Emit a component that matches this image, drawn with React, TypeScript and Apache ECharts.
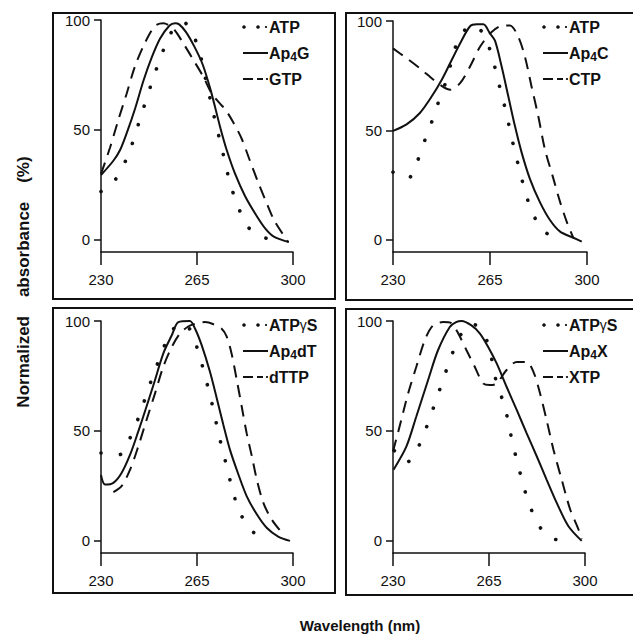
import React, { useEffect, useRef } from "react";
import * as echarts from "echarts";

// ---------- data ----------
const X_TICKS = [230, 265, 300];
const Y_TICKS = [0, 50, 100];
const X_TITLE = "Wavelength (nm)";
const Y_TITLE = "Normalized    absorbance    (%)";

// Panel A (top left)
const A_NAMES = ["ATP", "Ap4G", "GTP"];
const A_ATP_X = [230, 235, 240, 245, 250, 255, 258, 260, 263, 266, 268, 270, 272, 274, 276, 278, 280, 283, 286, 292];
const A_ATP_Y = [22, 27, 39, 58, 77, 93, 98, 99, 95, 85, 74, 63, 52, 42, 31, 22, 15, 7, 3, 0];
const A_AP4_X = [230, 234.5, 237, 239.5, 242.5, 245.5, 248.5, 251.5, 255, 257, 258.5, 261, 264, 267, 270, 273.4, 275.8, 278.9, 282.5, 286.7, 290, 293, 298.5];
const A_AP4_Y = [29.5, 36, 41, 49, 60, 72.5, 83, 91.5, 97.5, 98.5, 98, 94.5, 88, 80, 68, 51.5, 41, 30, 20, 11, 5, 1.5, -1];
const A_NTP_X = [230, 233.3, 236.3, 239.4, 242.4, 246, 249.7, 252.7, 256.4, 260, 263.7, 267.3, 270.3, 273, 275.5, 278.2, 281.3, 284.3, 287.4, 290.4, 293.4, 298.3];
const A_NTP_Y = [30, 42, 54.5, 66.7, 79, 89.5, 97.3, 98.5, 96, 89.4, 81.8, 74.2, 66.7, 62.5, 59, 53.5, 46, 36, 25.8, 16.7, 8.3, -1];

// Panel B (top right)
const B_NAMES = ["ATP", "Ap4C", "CTP"];
const B_ATP_X = [230, 235.3, 238.8, 241.5, 244, 246.4, 249, 251, 253, 256, 259, 262.5, 265.6, 267.4, 269.2, 271, 272.6, 274.3, 276.1, 278, 280.6, 284.6, 291];
const B_ATP_Y = [31, 28, 36, 45.6, 54, 63, 72, 81, 89.7, 96, 98, 94.3, 84.5, 75.4, 66.4, 57.3, 47.8, 38.8, 29.7, 20.7, 11.6, 3.8, 0];
const B_AP4_X = [230, 234.9, 239.7, 244, 247.6, 250.6, 254.2, 257.8, 260.2, 262.6, 265, 266.8, 269.2, 271.6, 274, 276.4, 279.4, 283, 286.7, 290.3, 295.1, 298.1];
const B_AP4_Y = [49.8, 52.8, 58, 65.6, 73.2, 80.7, 89.7, 97.6, 98.5, 98.5, 94.3, 91, 79.2, 65.6, 52, 40, 27.9, 17.3, 9, 3.8, 1, -0.8];
const B_NTP_X = [230, 234.9, 239.7, 244.6, 248.2, 250.6, 254.2, 257.8, 261.4, 265.6, 269.8, 272.2, 275.2, 277.6, 280, 282.4, 284.8, 287.9, 290.3, 292.7, 295.1];
const B_NTP_Y = [87.5, 83, 78.4, 73.2, 69.8, 68.6, 71.6, 79.2, 88.2, 95, 98, 98, 92.8, 83.7, 70, 56.6, 41.5, 27.9, 17.3, 8.3, 0.8];

// Panel C (bottom left)
const C_NAMES = ["ATPγS", "Ap4dT", "dTTP"];
const C_ATP_X = [230, 236.7, 240.6, 243.6, 246, 248.5, 251.1, 253.9, 256.5, 259.5, 262.5, 265.5, 267.5, 269.4, 271.2, 272.8, 274.6, 276.4, 278.2, 280.7, 284.7, 291];
const C_ATP_Y = [40, 39.2, 46.8, 55.8, 64.4, 73.6, 82.2, 91, 96.5, 99, 96, 86, 77, 67.9, 58.4, 49, 40, 30.9, 21.9, 12.8, 4.8, 0];
const C_AP4_X = [230, 231.5, 234.5, 237.5, 240.6, 243.6, 246.6, 249.7, 252.7, 255.8, 258.2, 262.4, 264.3, 266.7, 269.7, 272.2, 274.6, 277, 280.1, 283.1, 286.8, 290.4, 294.6, 298.9];
const C_AP4_Y = [30, 25.6, 26.4, 30.9, 39.2, 49.8, 61.1, 73.2, 85.2, 93.5, 99.5, 100, 96.5, 89, 77, 64.9, 52.8, 41.5, 30.2, 20.4, 12.1, 6, 2, 0];
const C_NTP_X = [234.5, 237.5, 240.6, 243.6, 246.6, 249.7, 252.7, 255.8, 258.8, 261.8, 265, 268, 271, 274, 275.8, 277.6, 279.5, 281.3, 283.1, 285, 286.8, 289.2, 292.2, 295.9];
const C_NTP_Y = [22.2, 24.9, 32.4, 43, 55, 67.1, 79.2, 88.2, 94.3, 97.5, 99, 99.5, 98.5, 96.5, 93, 85.2, 73.2, 61.1, 49, 38.5, 27.9, 17.3, 9.8, 3.8];

// Panel D (bottom right)
const D_NAMES = ["ATPγS", "Ap4X", "XTP"];
const D_ATP_X = [230.5, 234.9, 239.5, 242.4, 244.9, 247.3, 249.9, 252.5, 255.8, 258.5, 261, 264.7, 266.3, 267.8, 270.6, 272.3, 273.8, 275.7, 277.5, 279.9, 283, 288.5, 295.8];
const D_ATP_Y = [41, 35.7, 43.4, 52.3, 61.1, 69.8, 79.2, 87.9, 96, 98.5, 97.6, 89.7, 80.7, 71.6, 61.8, 52.3, 43.3, 34.2, 25.2, 16.1, 7.1, 1, -0.3];
const D_AP4_X = [230.2, 234.9, 238.5, 242.8, 246.4, 250.7, 253, 255, 258.6, 261.7, 264.7, 267.8, 271.4, 275.1, 278.7, 282.4, 286, 289.7, 293.9, 298.8];
const D_AP4_Y = [32.4, 43, 56.6, 73.2, 86.7, 97.3, 99.5, 100, 98, 94.3, 88.2, 80.7, 70.1, 59.6, 49, 38.5, 27.9, 17.3, 6.8, 0];
const D_NTP_X = [230, 232.4, 235.5, 238.5, 241.6, 244.6, 248.3, 251.3, 253.8, 256.8, 259.8, 262.9, 265.3, 267.8, 271.4, 275.1, 278.7, 281.2, 283.6, 286, 288.5, 291.5, 294.6, 297.6, 298.8];
const D_NTP_Y = [40.7, 52, 67, 79.2, 91.3, 98, 99.5, 99, 94.3, 86.7, 79.2, 71.6, 70.9, 71.6, 77.7, 81.4, 81.4, 76.9, 67.1, 55, 41.5, 27.9, 14.3, 5.3, 0.8];

// ---------- layout / style ----------
const FONT = '"Liberation Sans", Arial, sans-serif';
const INK = "#111";

const PANELS = [
  { names: A_NAMES, curves: [[A_ATP_X, A_ATP_Y], [A_AP4_X, A_AP4_Y], [A_NTP_X, A_NTP_Y]],
    grid: { left: 101, top: 20, width: 192, height: 232 }, box: [53, 13, 282, 286], legend: [243, 27] },
  { names: B_NAMES, curves: [[B_ATP_X, B_ATP_Y], [B_AP4_X, B_AP4_Y], [B_NTP_X, B_NTP_Y]],
    grid: { left: 393, top: 21, width: 194, height: 231 }, box: [346, 13, 300, 287], legend: [543, 27] },
  { names: C_NAMES, curves: [[C_ATP_X, C_ATP_Y], [C_AP4_X, C_AP4_Y], [C_NTP_X, C_NTP_Y]],
    grid: { left: 101, top: 321, width: 192, height: 232 }, box: [53, 308, 282, 285], legend: [243, 325] },
  { names: D_NAMES, curves: [[D_ATP_X, D_ATP_Y], [D_AP4_X, D_AP4_Y], [D_NTP_X, D_NTP_Y]],
    grid: { left: 393, top: 321, width: 192, height: 232 }, box: [346, 309, 300, 286], legend: [543, 325] },
];

const LINE_STYLES: any[] = [
  { type: [0.1, 19.5], width: 3.6, cap: "round" },
  { type: "solid", width: 2, cap: "butt" },
  { type: [12, 8], width: 2, cap: "butt" },
];

function pairs(xs: number[], ys: number[]) {
  return xs.map((x, i) => [x, ys[i]]);
}

function richName(name: string) {
  return name.replace(/^Ap4/, "Ap{s|4}").replace("γ", "{g|γ}");
}

function legendGraphics(p: any) {
  const [lx, ly] = p.legend;
  const out: any[] = [];
  const ls = { stroke: INK, lineWidth: 2 };
  p.names.forEach((name: string, i: number) => {
    const y = ly + i * 26;
    if (i === 0) {
      out.push({ type: "circle", shape: { cx: lx + 1, cy: y, r: 1.8 }, style: { fill: INK } });
      out.push({ type: "circle", shape: { cx: lx + 15, cy: y, r: 1.8 }, style: { fill: INK } });
      out.push({ type: "circle", shape: { cx: lx + 23, cy: y, r: 1.1 }, style: { fill: INK } });
    } else if (i === 1) {
      out.push({ type: "line", shape: { x1: lx, y1: y, x2: lx + 25, y2: y }, style: ls });
    } else {
      out.push({ type: "line", shape: { x1: lx, y1: y, x2: lx + 10, y2: y }, style: ls });
      out.push({ type: "line", shape: { x1: lx + 14, y1: y, x2: lx + 20, y2: y }, style: ls });
      out.push({ type: "circle", shape: { cx: lx + 24, cy: y, r: 1.1 }, style: { fill: INK } });
    }
    out.push({
      type: "text",
      x: lx + 26,
      y,
      style: {
        text: richName(name),
        fontFamily: FONT,
        fontSize: 16,
        fontWeight: "bold",
        fill: INK,
        lineHeight: 20,
        textAlign: "left",
        textVerticalAlign: "middle",
        rich: {
          s: { fontFamily: FONT, fontSize: 12, fontWeight: "bold", fill: INK, verticalAlign: "bottom", lineHeight: 10 },
          g: { fontFamily: FONT, fontSize: 14, fontWeight: "normal", fill: INK, lineHeight: 20 },
        },
      },
    });
  });
  return out;
}

export default function App() {
  const ref = useRef<HTMLDivElement>(null);
  useEffect(() => {
    if (!ref.current) return;
    const chart = echarts.init(ref.current, null, { renderer: "svg" });

    const grids = PANELS.map((p) => ({ ...p.grid, containLabel: false }));
    const xAxes = PANELS.map((_, i) => ({
      gridIndex: i,
      type: "value",
      min: 230,
      max: 300,
      axisLine: { show: true, onZero: false, lineStyle: { color: INK, width: 1.5 } },
      axisTick: { show: true, customValues: X_TICKS, length: 13, lineStyle: { color: INK, width: 1.5 } },
      axisLabel: { customValues: X_TICKS, margin: 20, color: INK, fontSize: 15, fontFamily: FONT },
      splitLine: { show: false },
    }));
    const yAxes = PANELS.map((_, i) => ({
      gridIndex: i,
      type: "value",
      min: -5.5,
      max: 100,
      axisLine: { show: true, onZero: false, lineStyle: { color: INK, width: 1.5 } },
      axisTick: { show: true, customValues: Y_TICKS, length: 7, lineStyle: { color: INK, width: 1.5 } },
      axisLabel: { customValues: Y_TICKS, margin: 11, color: INK, fontSize: 15, fontFamily: FONT },
      splitLine: { show: false },
    }));
    const series: any[] = [];
    PANELS.forEach((p, pi) => {
      p.curves.forEach((c, ci) => {
        series.push({
          type: "line",
          name: p.names[ci],
          xAxisIndex: pi,
          yAxisIndex: pi,
          data: pairs(c[0], c[1]),
          symbol: "none",
          showSymbol: false,
          smooth: 0.3,
          clip: false,
          silent: true,
          lineStyle: { color: INK, ...LINE_STYLES[ci] },
        });
      });
    });

    const graphics: any[] = [];
    PANELS.forEach((p) => {
      const [bx, by, bw, bh] = p.box;
      graphics.push({
        type: "rect",
        shape: { x: bx, y: by, width: bw, height: bh },
        style: { fill: "none", stroke: INK, lineWidth: 2 },
        silent: true,
      });
      graphics.push(...legendGraphics(p));
    });
    graphics.push({
      type: "text",
      x: 23,
      y: 282,
      rotation: Math.PI / 2,
      style: {
        text: Y_TITLE,
        fontFamily: FONT,
        fontSize: 17,
        fontWeight: "bold",
        fill: INK,
        textAlign: "center",
        textVerticalAlign: "middle",
      },
    });
    graphics.push({
      type: "text",
      x: 360,
      y: 625,
      style: {
        text: X_TITLE,
        fontFamily: FONT,
        fontSize: 15,
        fontWeight: "bold",
        fill: INK,
        textAlign: "center",
        textVerticalAlign: "middle",
      },
    });

    chart.setOption({
      animation: false,
      backgroundColor: "#fff",
      grid: grids,
      xAxis: xAxes,
      yAxis: yAxes,
      series,
      graphic: graphics,
    });
    return () => chart.dispose();
  }, []);
  return (
    <div
      ref={ref}
      style={{ position: "absolute", left: 0, top: 0, width: 633, height: 634, background: "#fff" }}
    />
  );
}
